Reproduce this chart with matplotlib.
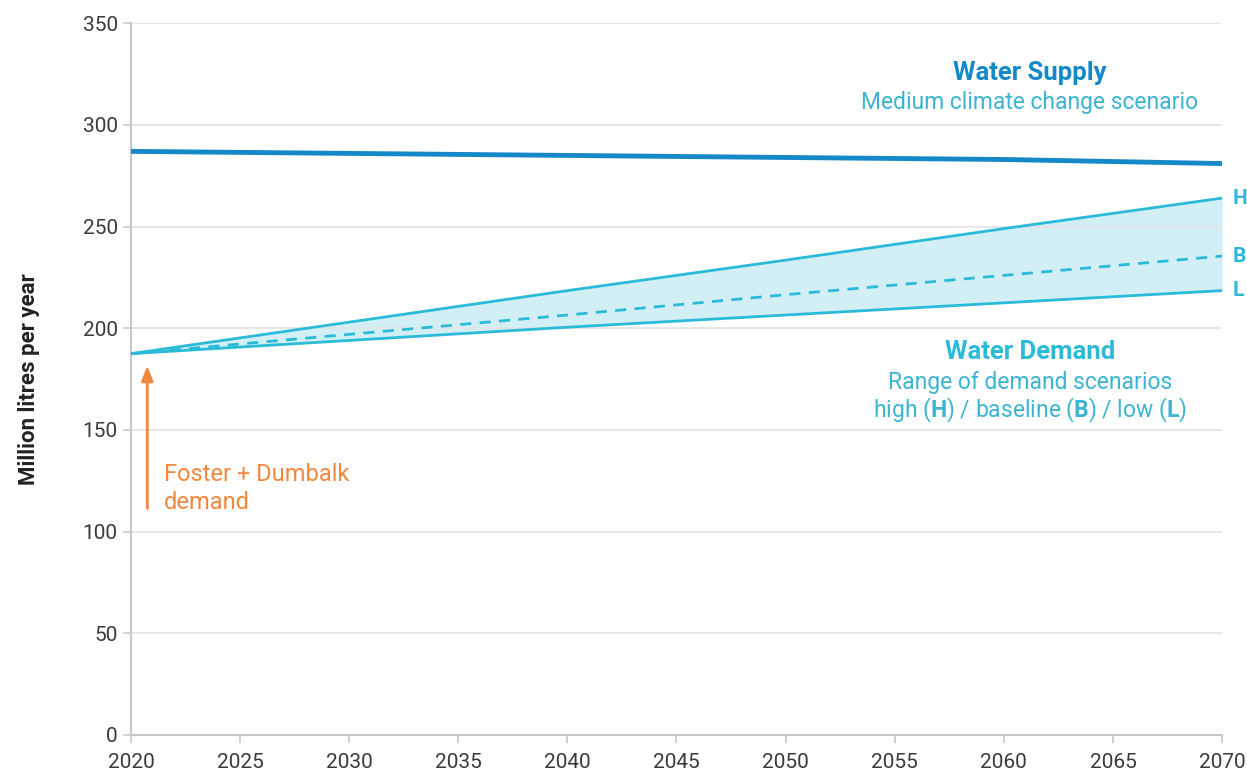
import matplotlib
matplotlib.use("Agg")
import matplotlib.pyplot as plt

plt.rcParams['font.family'] = ['Roboto', 'DejaVu Sans']
plt.rcParams['mathtext.fontset'] = 'custom'
plt.rcParams['mathtext.rm'] = 'Roboto'
plt.rcParams['mathtext.bf'] = 'Roboto:bold'

# data
years = [2020, 2030, 2040, 2050, 2060, 2070]
supply = [287, 286, 285, 284, 283, 281]
demand_high = [187.5, 203, 218.5, 233.5, 249, 264]
demand_base = [187.5, 197, 206.5, 216.5, 226, 235.5]
demand_low = [187.5, 194, 200.5, 206.5, 212.5, 218.5]

xticks = list(range(2020, 2071, 5))
yticks = list(range(0, 351, 50))

SUPPLY_C = '#1589c8'
DEMAND_C = '#2bbbd8'
SUB_C = '#3cb4d2'
FILL_C = '#d2eff6'
ORANGE = '#f2883e'
GREY = '#c8c8c8'

fig = plt.figure(figsize=(12.47, 7.76), dpi=100)
ax = fig.add_axes([0.105, 0.053, 0.875, 0.917])

ax.fill_between(years, demand_low, demand_high, color=FILL_C, lw=0, zorder=1)
ax.plot(years, demand_high, color=DEMAND_C, lw=2, zorder=3)
ax.plot(years, demand_low, color=DEMAND_C, lw=2, zorder=3)
ax.plot(years, demand_base, color=DEMAND_C, lw=2, ls=(0, (4, 3)), zorder=3)
ax.plot(years, supply, color=SUPPLY_C, lw=3.5, zorder=3)

ax.set_xlim(2020, 2070)
ax.set_ylim(0, 350)
ax.set_xticks(xticks)
ax.set_yticks(yticks)
ax.grid(axis='y', color='#e3e3e3', lw=1.2, zorder=0)
for s in ['top', 'right']:
    ax.spines[s].set_visible(False)
for s in ['left', 'bottom']:
    ax.spines[s].set_color(GREY)
    ax.spines[s].set_linewidth(1.5)
ax.tick_params(colors=GREY, labelcolor='#3a3a3a', labelsize=15, length=6, width=1.2)
ax.tick_params(axis='x', pad=7)
ax.set_ylabel('Million litres per year', fontsize=16, fontweight='bold',
              color='#222222')
ax.yaxis.set_label_coords(-0.083, 0.5)

# end labels
for lab, vals in zip(['H', 'B', 'L'], [demand_high, demand_base, demand_low]):
    ax.text(2070.5, vals[-1], lab, color=DEMAND_C, fontsize=15, fontweight='bold',
            va='center', ha='left', clip_on=False)

cx = 2061.2
ax.text(cx, 325.5, 'Water Supply', color=SUPPLY_C, fontsize=18.5,
        fontweight='bold', ha='center', va='center')
ax.text(cx, 311, 'Medium climate change scenario', color=SUB_C,
        fontsize=16.5, ha='center', va='center')
ax.text(cx, 188.5, 'Water Demand', color=DEMAND_C, fontsize=18.5,
        fontweight='bold', ha='center', va='center')
ax.text(cx, 173.5, 'Range of demand scenarios', color=SUB_C,
        fontsize=16.5, ha='center', va='center')
ax.text(cx, 159.5, r'high ($\mathbf{H}$) / baseline ($\mathbf{B}$) / low ($\mathbf{L}$)',
        color=SUB_C, fontsize=16.5, ha='center', va='center')

ax.annotate('', xy=(2020.75, 183), xytext=(2020.75, 110),
            arrowprops=dict(arrowstyle='-|>,head_width=0.35,head_length=0.9',
                            color=ORANGE, lw=2))
ax.text(2021.5, 133.5, 'Foster + Dumbalk\ndemand', color=ORANGE, fontsize=17,
        ha='left', va='top', linespacing=1.25)

fig.savefig('out.png', dpi=100)
